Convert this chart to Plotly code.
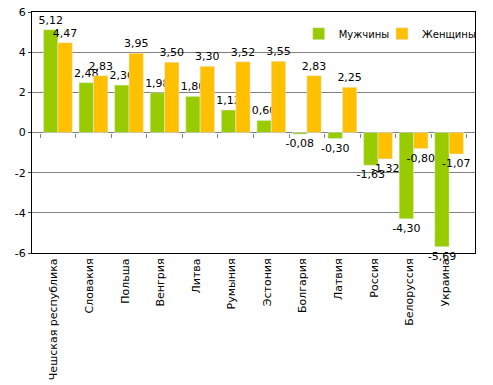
import plotly.graph_objects as go

categories = ["Чешская республика", "Словакия", "Польша", "Венгрия", "Литва", "Румыния",
              "Эстония", "Болгария", "Латвия", "Россия", "Белоруссия", "Украина"]
men = [5.12, 2.48, 2.36, 1.98, 1.80, 1.12, 0.60, -0.08, -0.30, -1.63, -4.30, -5.69]
women = [4.47, 2.83, 3.95, 3.50, 3.30, 3.52, 3.55, 2.83, 2.25, -1.32, -0.80, -1.07]
y_ticks = [-6, -4, -2, 0, 2, 4, 6]

def fmt(v):
    return f"{v:.2f}".replace(".", ",")

font = "DejaVu Sans"
fig = go.Figure()
fig.add_trace(go.Bar(x=categories, y=men, name="Мужчины", marker_color="#99CC00",
                     text=[fmt(v) for v in men], textposition="outside", cliponaxis=False,
                     constraintext="none", legend="legend",
                     textfont=dict(size=11, color="black", family=font)))
fig.add_trace(go.Bar(x=categories, y=women, name="Женщины", marker_color="#FFC000",
                     text=[fmt(v) for v in women], textposition="outside", cliponaxis=False,
                     constraintext="none", legend="legend2",
                     textfont=dict(size=11, color="black", family=font)))
# invisible helper trace so the zero-line tick axis is drawn
fig.add_trace(go.Scatter(x=categories, y=[None] * len(categories), xaxis="x2",
                         showlegend=False, hoverinfo="skip", mode="markers"))

leg_common = dict(orientation="h", y=0.91, xanchor="left", yanchor="middle",
                  bgcolor="rgba(0,0,0,0)", font=dict(size=10, family=font),
                  itemwidth=30)

fig.update_layout(
    width=493, height=385,
    margin=dict(l=32, r=14, t=12, b=132),
    plot_bgcolor="white", paper_bgcolor="white",
    barmode="group", bargap=0.19, bargroupgap=0,
    font=dict(family=font, size=11, color="black"),
    showlegend=True,
    uniformtext=dict(mode=False),
    legend=dict(x=0.602, **leg_common),
    legend2=dict(x=0.790, **leg_common),
    xaxis=dict(type="category", showline=True, linecolor="black", mirror=True,
               tickangle=-90, ticks="", tickfont=dict(size=11, family=font),
               ticklabelshift=-4, ticklabelstandoff=0,
               showgrid=False, automargin=False),
    xaxis2=dict(matches="x", overlaying="x", anchor="free", position=0.5,
                showticklabels=False, ticks="outside", ticklen=4, tickcolor="#808080",
                tickson="boundaries", showline=False, showgrid=False),
    yaxis=dict(range=[-6, 6], tickvals=y_ticks, ticktext=[str(v) for v in y_ticks],
               showgrid=True, gridcolor="#808080", gridwidth=1,
               zeroline=True, zerolinecolor="#808080", zerolinewidth=1,
               showline=True, linecolor="black", mirror=True, automargin=False,
               ticks="outside", ticklen=3, tickfont=dict(size=11, family=font)),
)
fig.write_html("out.html", config={"displayModeBar": False},
               post_script="document.body.style.margin='0';")
